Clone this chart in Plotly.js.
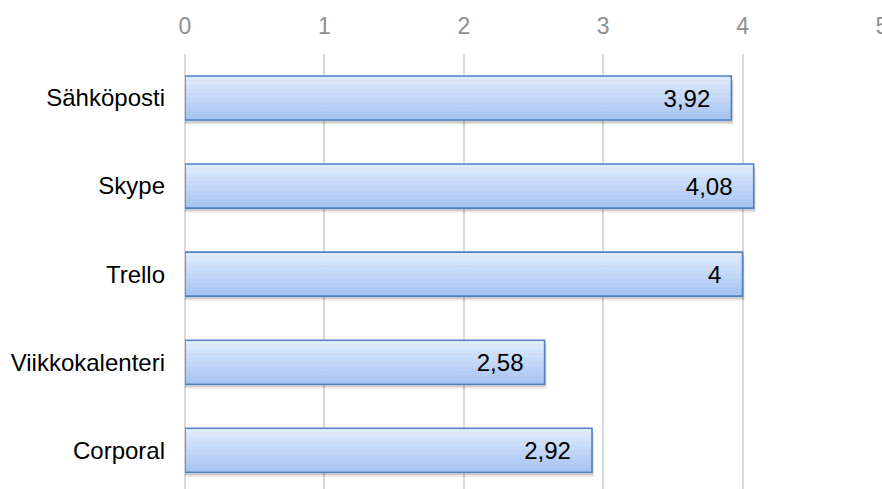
<!DOCTYPE html>
<html><head><meta charset="utf-8">
<script src="https://cdn.plot.ly/plotly-3.0.1.min.js"></script>
<style>html,body{margin:0;padding:0;background:#fff}</style>
</head><body>
<div id="chart" style="width:882px;height:489px"></div>
<script>
const categories = ["Sähköposti", "Skype", "Trello", "Viikkokalenteri", "Corporal"];
const values = [3.92, 4.08, 4, 2.58, 2.92];
const xTicks = [0, 1, 2, 3, 4, 5];

const labels = values.map(v => String(v).replace('.', ',') + '\u00a0\u00a0\u2009');
const FONT = 'Liberation Sans, Arial, sans-serif';
const BW = 0.5;

// gradient bands (top light -> bottom darker)
const gradTop = [224, 234, 253], gradBot = [166, 197, 244];
const nBands = 10;
const traces = [];

// soft shadow under bars
traces.push({
  type: 'bar', orientation: 'h', x: values.map(v => v + 0.015), y: categories,
  width: BW, offset: -BW / 2 + 0.05,
  marker: {color: 'rgba(0,0,0,0.10)', line: {width: 0}}, hoverinfo: 'none'
});
traces.push({
  type: 'bar', orientation: 'h', x: values.map(v => v + 0.008), y: categories,
  width: BW, offset: -BW / 2 + 0.03,
  marker: {color: 'rgba(0,0,0,0.12)', line: {width: 0}}, hoverinfo: 'none'
});

for (let k = 0; k < nBands; k++) {
  const t = k / (nBands - 1);
  const c = gradTop.map((a, i) => Math.round(a + (gradBot[i] - a) * t));
  traces.push({
    type: 'bar', orientation: 'h', x: values, y: categories,
    width: BW / nBands + 0.002, offset: -BW / 2 + k * BW / nBands,
    marker: {color: `rgb(${c.join(',')})`, line: {width: 0}},
    hoverinfo: 'none'
  });
}

traces.push({
  type: 'bar', orientation: 'h', x: values, y: categories,
  width: BW, offset: -BW / 2,
  text: labels, textposition: 'inside', insidetextanchor: 'end',
  textfont: {family: FONT, size: 24, color: '#000'},
  constraintext: 'none',
  marker: {color: 'rgba(0,0,0,0)', line: {color: '#4f81c4', width: 1.6}},
  hoverinfo: 'none'
});

const layout = {
  width: 882, height: 489,
  margin: {l: 185, r: 0, t: 54, b: 0},
  paper_bgcolor: '#fff', plot_bgcolor: '#fff',
  barmode: 'overlay',
  showlegend: false,
  font: {family: FONT, size: 24, color: '#000'},
  xaxis: {
    side: 'top', range: [0, 5.0005], tickvals: xTicks, ticktext: xTicks.map(String),
    showgrid: true, gridcolor: '#d9d9d9', gridwidth: 2,
    zeroline: true, zerolinecolor: '#d9d9d9', zerolinewidth: 2,
    showline: false, ticks: '', ticklabelstandoff: 14, ticklabeloverflow: 'allow',
    tickfont: {family: FONT, size: 23, color: '#8f8f8f'}, fixedrange: true
  },
  yaxis: {
    type: 'category', categoryorder: 'array', categoryarray: categories,
    range: [4.44, -0.5], showgrid: false, zeroline: false, showline: false,
    ticks: '', ticklabelstandoff: 19,
    tickfont: {family: FONT, size: 24, color: '#000'}, fixedrange: true
  }
};

Plotly.newPlot('chart', traces, layout, {displayModeBar: false, staticPlot: true});
</script>
</body></html>
